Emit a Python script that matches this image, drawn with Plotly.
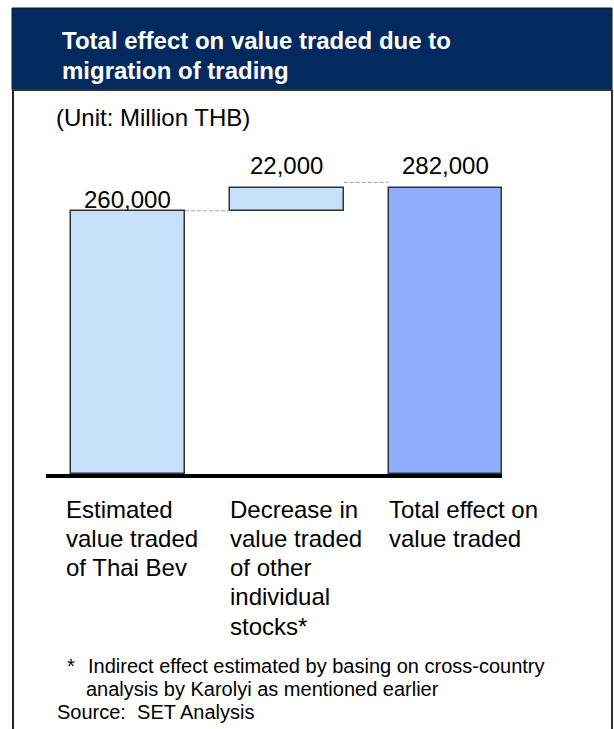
import plotly.graph_objects as go

# ---- data ----
categories = ["Estimated<br>value traded<br>of Thai Bev",
              "Decrease in<br>value traded<br>of other<br>individual<br>stocks*",
              "Total effect on<br>value traded"]
start_value = 260000
change_value = 22000
total_value = start_value + change_value
bar_values = [start_value, change_value, total_value]
bar_bases = [0, start_value, 0]
value_labels = ["260,000", "22,000", "282,000"]

title_lines = ["Total effect on value traded due to", "migration of trading"]
unit_text = "(Unit: Million THB)"
footnote_star = "*"
footnote_lines = ["Indirect effect estimated by basing on cross-country",
                  "analysis by Karolyi as mentioned earlier"]
source_text = "Source:  SET Analysis"

# ---- layout constants (page pixel coordinates) ----
W, H = 614, 729
L, R, T, B = 46, 502, 150, 474
FONT = "Liberation Sans, Arial, sans-serif"
BAR_W = 0.718
LIGHT = "#C7E0F9"
TOTAL = "#90ADFD"
NAVY = "#022A5E"
label_lift = [11, 23, 23]
connector_lift = [0, 6000]


def px(x):
    return (x - L) / (R - L)


def py(y):
    return (B - y) / (B - T)


xpos = list(range(len(categories)))
fig = go.Figure()
fig.add_trace(go.Bar(
    x=xpos, y=bar_values, base=bar_bases, width=BAR_W,
    marker=dict(color=[LIGHT, LIGHT, TOTAL], line=dict(color="#333333", width=1.5)),
    hoverinfo="skip", showlegend=False,
))

tops = [b + v for b, v in zip(bar_bases, bar_values)]

shapes = []
for i in range(len(categories) - 1):
    yv = tops[i] + connector_lift[i]
    shapes.append(dict(type="line", xref="x", yref="y",
                       x0=xpos[i] + BAR_W / 2, x1=xpos[i + 1] - BAR_W / 2,
                       y0=yv, y1=yv, line=dict(color="#A0A0A0", width=1, dash="4px,2px")))
shapes.append(dict(type="rect", xref="paper", yref="paper", x0=px(12), x1=px(612),
                   y0=py(90), y1=py(8), fillcolor=NAVY, line=dict(color="#1a1a1a", width=1), layer="below"))
shapes.append(dict(type="line", xref="paper", yref="paper", x0=px(13), x1=px(13),
                   y0=py(90), y1=py(729), line=dict(color="#222222", width=2)))
shapes.append(dict(type="line", xref="paper", yref="paper", x0=px(612), x1=px(612),
                   y0=py(90), y1=py(729), line=dict(color="#333333", width=2)))
shapes.append(dict(type="line", xref="paper", yref="paper", x0=px(12), x1=px(612),
                   y0=py(90), y1=py(90), line=dict(color="#333333", width=2)))

annotations = []


def add_text(x, y, text, size, bold=False, color="black"):
    annotations.append(dict(xref="paper", yref="paper", x=px(x), y=py(y),
                            text=f"<b>{text}</b>" if bold else text,
                            showarrow=False, xanchor="left", yanchor="middle", align="left",
                            font=dict(family=FONT, size=size, color=color)))


for k, line in enumerate(title_lines):
    add_text(60, 40 + 30 * k, line, 24, bold=True, color="white")
add_text(54, 117, unit_text, 24)

for i, lab in enumerate(value_labels):
    annotations.append(dict(xref="x", yref="y", x=xpos[i], y=tops[i], text=lab,
                            showarrow=False, xanchor="center", yanchor="middle",
                            yshift=label_lift[i],
                            font=dict(family=FONT, size=24, color="black")))

col_x = [64, 228, 387]
for i, cat in enumerate(categories):
    for k, line in enumerate(cat.split("<br>")):
        add_text(col_x[i], 509 + 29.3 * k, line, 24)

add_text(65, 666, footnote_star, 20)
add_text(86, 666, footnote_lines[0], 20)
add_text(84, 689, footnote_lines[1], 20)
add_text(55, 712, source_text, 20)

fig.update_layout(
    width=W, height=H,
    margin=dict(l=L, r=W - R, t=T, b=H - B, pad=0),
    paper_bgcolor="white", plot_bgcolor="white",
    shapes=shapes, annotations=annotations,
    xaxis=dict(range=[-0.5165, 2.356], showticklabels=False, ticks="", showgrid=False,
               zeroline=False, showline=True, linecolor="black", linewidth=4),
    yaxis=dict(range=[0, 320000], visible=False, showgrid=False, zeroline=False),
    bargap=0, font=dict(family=FONT),
)

fig.write_html("out.html", config={"displayModeBar": False},
               post_script="document.body.style.margin='0';document.body.style.overflow='hidden';")
